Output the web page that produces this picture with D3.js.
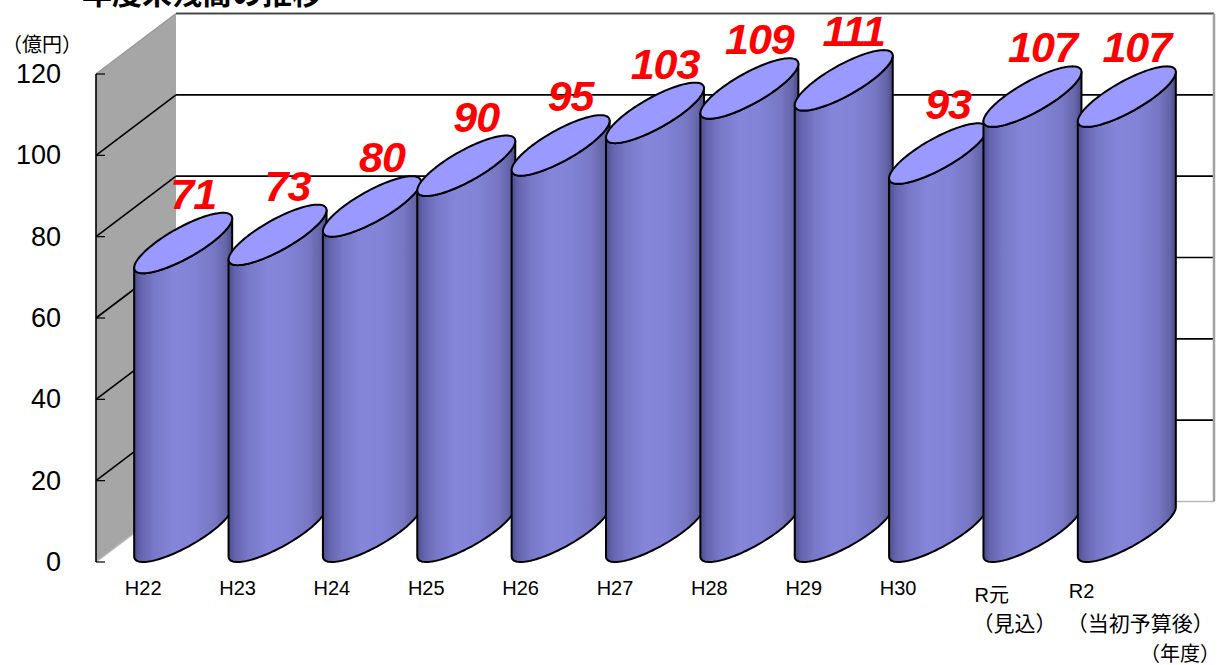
<!DOCTYPE html>
<html>
<head>
<meta charset="utf-8">
<script src="https://cdn.jsdelivr.net/npm/d3@7"></script>
<style>
html,body{margin:0;padding:0;background:#fff;}
svg{display:block;}
text{font-family:"Liberation Sans","Noto Sans CJK JP",sans-serif;}
</style>
</head>
<body>
<svg id="chart" width="1222" height="665"></svg>
<script>
const title = "年度末残高の推移";
const unitLabel = "（億円）";
const xAxisLabel = "（年度）";
const categories = ["H22","H23","H24","H25","H26","H27","H28","H29","H30","R元","R2"];
const subLabels = ["","","","","","","","","","（見込）","（当初予算後）"];
const values = [71,73,80,90,95,103,109,111,93,107,107];
const yTicks = [0,20,40,60,80,100,120];

const svg = d3.select("#chart");

// geometry
const frontLeft = 96, frontRight = 1134;
const DX = 80, DY = 60.5; // depth projection offsets
const x = d3.scaleBand().domain(categories).range([frontLeft, frontRight]).padding(0);
const y = d3.scaleLinear().domain([0,120]).range([562, 74]);
const bw = x.bandwidth();
const yMin = d3.min(yTicks), yMax = d3.max(yTicks);

// defs: gradient for cylinder bodies
const defs = svg.append("defs");
const grad = defs.append("linearGradient").attr("id","bodyGrad")
  .attr("x1","0").attr("x2","1").attr("y1","0").attr("y2","0");
[[0,"#4c4c8e"],[0.06,"#6262ac"],[0.2,"#7878c8"],[0.4,"#8585da"],[0.62,"#8282d6"],[0.82,"#7777c4"],[0.94,"#6464a8"],[1,"#4a4a86"]]
  .forEach(([o,c]) => grad.append("stop").attr("offset",o).attr("stop-color",c));

// side wall (left)
const g = svg.append("g");
g.append("polygon")
  .attr("points", [[frontLeft,y(yMin)],[frontLeft,y(yMax)],[frontLeft+DX,y(yMax)-DY],[frontLeft+DX,y(yMin)-DY]].map(p=>p.join(",")).join(" "))
  .attr("fill","#a6a6a6");

// back wall gridlines + side diagonals
yTicks.forEach(v => {
  const yf = y(v), yb = y(v) - DY;
  let col = "#000", sw = 1.6;
  if (v === yMax) { col = "#4a4a4a"; sw = 2; }
  if (v === yMin) { col = "#b8b8b8"; sw = 1.5; }
  g.append("line").attr("x1",frontLeft).attr("y1",yf).attr("x2",frontLeft+DX).attr("y2",yb)
    .attr("stroke", v===yMax ? "#9a9a9a" : col).attr("stroke-width", v===yMax?1.5:sw);
  g.append("line").attr("x1",frontLeft+DX).attr("y1",yb).attr("x2",frontRight+DX).attr("y2",yb)
    .attr("stroke", col).attr("stroke-width", sw);
  g.append("line").attr("x1",frontLeft).attr("y1",yf).attr("x2",frontLeft+9).attr("y2",yf)
    .attr("stroke","#000").attr("stroke-width",1.2);
});
g.append("line").attr("x1",frontRight+DX).attr("y1",y(yMax)-DY).attr("x2",frontRight+DX).attr("y2",y(yMin)-DY)
  .attr("stroke","#a0a0a0").attr("stroke-width",2.5);
g.append("line").attr("x1",frontLeft).attr("y1",y(yMin)).attr("x2",frontLeft).attr("y2",y(yMax))
  .attr("stroke","#000").attr("stroke-width",1.6);

// cylinders
const rx = bw * 0.3;
const hx = DX/2, hy = DY/2;
const thR = Math.atan2(hx, rx);
const thL = thR + Math.PI;
function P(cx, v, th){
  return [cx + hx + rx*Math.cos(th) + hx*Math.sin(th), y(v) - hy - hy*Math.sin(th)];
}
const line = d3.line();
const N = 60;
categories.forEach((c,i) => {
  const cx = x(c) + bw/2;
  const v = values[i];
  const pts = [];
  for (let k=0;k<=N;k++){ const th = thL + (thR + 2*Math.PI - thL)*k/N; pts.push(P(cx, 0, th)); }
  for (let k=N;k>=0;k--){ const th = thL + (thR + 2*Math.PI - thL)*k/N; pts.push(P(cx, v, th)); }
  g.append("path").attr("d", line(pts) + "Z")
    .attr("fill","url(#bodyGrad)").attr("stroke","#000").attr("stroke-width",2).attr("stroke-linejoin","round");
  const top = [];
  for (let k=0;k<=2*N;k++){ top.push(P(cx, v, 2*Math.PI*k/(2*N))); }
  g.append("path").attr("d", line(top)+"Z")
    .attr("fill","#9999ff").attr("stroke","#000").attr("stroke-width",2);
});

// value labels
categories.forEach((c,i) => {
  const cx = x(c) + bw/2 + hx;
  svg.append("text")
    .attr("x", cx + 10).attr("y", y(values[i]) - DY - 4)
    .attr("text-anchor","middle")
    .attr("font-size", 43).attr("font-weight","bold").attr("font-style","italic")
    .attr("letter-spacing", -1)
    .attr("fill","#ff0000")
    .text(values[i]);
});

// y axis labels
const yAxis = d3.axisLeft(y).tickValues(yTicks).tickSize(0).tickPadding(0);
const ya = svg.append("g").attr("transform","translate(61,0)").call(yAxis);
ya.select(".domain").remove();
ya.selectAll("text").attr("font-size",27).attr("fill","#000")
  .style("font-family","'Liberation Sans',sans-serif");

// x axis labels
categories.forEach((c,i) => {
  const cx = x(c) + bw/2;
  if (subLabels[i]) {
    svg.append("text").attr("x", cx - 18).attr("y", i === categories.length-1 ? 598 : 602)
      .attr("font-size",20).attr("fill","#000").text(c);
    svg.append("text").attr("x", cx - 20).attr("y", 631).attr("font-size",21)
      .attr("fill","#000").text(subLabels[i]);
  } else {
    svg.append("text").attr("x", cx).attr("y", 595).attr("text-anchor","middle").attr("font-size",20).attr("fill","#000").text(c);
  }
});

// unit labels
svg.append("text").attr("x", 2).attr("y", 52).attr("font-size",20).attr("fill","#000").text(unitLabel);
svg.append("text").attr("x", 1140).attr("y", 661).attr("font-size",20).attr("fill","#000").text(xAxisLabel);

// title (mostly clipped at top, as in the source image)
svg.append("text").attr("x", 82).attr("y", 4).attr("font-size",30).attr("font-weight","bold").attr("fill","#000").text(title);
</script>
</body>
</html>
